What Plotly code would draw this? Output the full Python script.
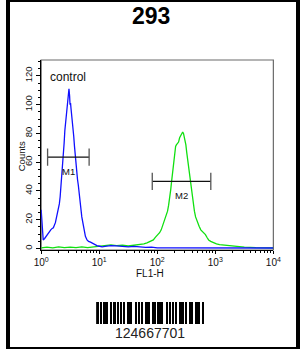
import math
import plotly.graph_objects as go

# ---------------- data ----------------
title_text = "293"
x_label = "FL1-H"
y_label = "Counts"
barcode_text = "124667701"

# control (blue) histogram: log10(FL1-H) and counts
blue_logx = [0.000, 0.010, 0.020, 0.035, 0.060, 0.085, 0.11, 0.14, 0.165, 0.19, 0.21, 0.245,
             0.27, 0.299, 0.313, 0.327, 0.340, 0.354, 0.367, 0.381, 0.395, 0.408, 0.422,
             0.435, 0.449, 0.463, 0.472, 0.479, 0.490, 0.497, 0.506, 0.515, 0.524, 0.533,
             0.547, 0.561, 0.574, 0.588, 0.600, 0.612, 0.626, 0.640, 0.653, 0.667, 0.680,
             0.700, 0.718, 0.740, 0.762, 0.79, 0.816, 0.85, 0.871, 0.9, 0.925, 0.96, 1.007,
             1.05, 1.1, 1.2, 1.3, 1.4, 1.5, 1.6, 1.7, 1.8, 1.9, 2.0, 2.2, 2.4, 2.6, 2.8,
             3.0, 3.2, 3.4, 3.6, 3.8, 4.0]
blue_counts = [27, 20, 9, 6, 7, 8.5, 10, 12, 13, 14, 14.5, 18,
               22, 27, 31, 36, 42, 50, 57, 64, 73, 82, 88,
               96, 99, 105, 108, 111, 106, 100, 101, 97, 94, 89,
               84, 78, 71, 64, 57, 53, 48, 44, 39, 33, 27,
               22, 18, 12, 8.5, 6, 5, 4.5, 4, 3.5, 3, 2, 1.6,
               1.2, 1.5, 2, 1.8, 1.5, 1.2, 1.5, 1, 0.8, 1, 0.5, 0.5, 0.5, 0.4, 0.5,
               0.4, 0.5, 0.4, 0.5, 0.4, 0.4]

# sample (green) histogram
green_logx = [0.0, 0.1, 0.2, 0.3, 0.4, 0.5, 0.6, 0.7, 0.8, 0.9, 1.0, 1.1, 1.2, 1.3, 1.4,
              1.5, 1.6, 1.714, 1.77, 1.823, 1.88, 1.932, 1.97, 2.013, 2.04, 2.068, 2.095,
              2.122, 2.15, 2.177, 2.195, 2.215, 2.232, 2.248, 2.262, 2.275, 2.29, 2.302,
              2.316, 2.329, 2.345, 2.367, 2.385, 2.405, 2.42, 2.438, 2.452, 2.465, 2.48,
              2.493, 2.507, 2.520, 2.534, 2.547, 2.56, 2.574, 2.587, 2.601, 2.62, 2.640,
              2.66, 2.683, 2.70, 2.721, 2.75, 2.776, 2.80, 2.830, 2.86, 2.885, 2.92, 2.966,
              3.02, 3.074, 3.18, 3.35, 3.5, 3.7, 3.9, 4.0]
green_counts = [0.5, 1, 0.5, 1.2, 0.6, 1, 0.6, 1.2, 0.7, 1.2, 1.5, 2.2, 2.5, 2.0, 2.3,
                1.8, 2.2, 2.8, 3.2, 4, 5, 6, 8, 9.7, 11, 13, 16,
                19, 22, 26, 30, 35, 41, 47, 53, 58, 63, 67,
                71, 72, 73, 74, 77, 79, 80, 81, 80, 78, 75,
                72, 67, 63, 58, 54, 49, 44, 40, 35, 30, 26,
                22, 19, 17, 15.5, 13, 12, 11, 9.7, 7.5, 6, 5, 4,
                3.3, 2.8, 2.3, 1.6, 1, 0.6, 0.5, 0.5]

# gates (marker regions)
gate_names = ["M1", "M2"]
gate_low = [1.29, 82.0]
gate_high = [6.7, 836.0]
gate_level = [63.5, 46.7]
gate_label_x = [2.95, 257.0]

control_label_x = 2.9
control_label_y = 119

# axis ticks
x_tickvals = [1, 10, 100, 1000, 10000]
x_ticktext = ["10<sup>0</sup>", "10<sup>1</sup>", "10<sup>2</sup>", "10<sup>3</sup>", "10<sup>4</sup>"]
y_tickvals = [0, 20, 40, 60, 80, 100, 120]

# barcode module widths (bar, space alternating)
barcode_bars = [3, 1, 2, 1, 2, 3, 1, 2, 1, 3, 1, 2, 2, 1, 3, 1, 1, 2, 3, 1, 2, 1, 2, 1, 3, 1, 2, 1, 2, 3, 1, 2]
barcode_spaces = [1, 2, 1, 2, 1, 1, 2, 1, 2, 1, 3, 1, 1, 2, 1, 2, 1, 1, 1, 3, 1, 2, 1, 2, 1, 1, 2, 1, 1, 1, 2]

# ---------------- figure ----------------
W, H = 306, 349
FONT = "Arial, Liberation Sans, sans-serif"

def px_x(p):
    return p / W

def px_y(p):
    return 1 - p / H

fig = go.Figure()

fig.add_trace(go.Scatter(
    x=[10 ** v for v in green_logx], y=green_counts, mode="lines",
    line=dict(color="#10e010", width=1.3), showlegend=False, hoverinfo="skip"))
fig.add_trace(go.Scatter(
    x=[10 ** v for v in blue_logx], y=blue_counts, mode="lines",
    line=dict(color="#1010ff", width=1.3), showlegend=False, hoverinfo="skip"))

# gates
for name, lo, hi, lvl, lx in zip(gate_names, gate_low, gate_high, gate_level, gate_label_x):
    cap = 6
    fig.add_trace(go.Scatter(
        x=[lo, hi], y=[lvl, lvl], mode="lines",
        line=dict(color="#111111", width=1.2), showlegend=False, hoverinfo="skip"))
    fig.add_trace(go.Scatter(
        x=[lo, lo, None, hi, hi], y=[lvl - cap, lvl + cap, None, lvl - cap, lvl + cap],
        mode="lines", line=dict(color="#555555", width=1.3), showlegend=False, hoverinfo="skip"))
    fig.add_annotation(x=math.log10(lx), y=lvl - 10, xref="x", yref="y",
                       xanchor="center", yanchor="middle",
                       text=name, showarrow=False,
                       font=dict(family=FONT, size=9.5, color="#111111"))

fig.add_annotation(x=math.log10(control_label_x), y=control_label_y, xref="x", yref="y",
                   text="control", xanchor="center", yanchor="middle",
                   showarrow=False, font=dict(family=FONT, size=12, color="#111111"))

# barcode
pos = 0
centers = []
for i, bw in enumerate(barcode_bars):
    centers.append(pos + bw / 2)
    pos += bw
    if i < len(barcode_spaces):
        pos += barcode_spaces[i]
total = pos
fig.add_trace(go.Bar(
    x=centers, y=[1] * len(centers), width=barcode_bars, xaxis="x2", yaxis="y2",
    marker=dict(color="#000000", line=dict(width=0)), showlegend=False, hoverinfo="skip"))

fig.update_layout(
    width=W, height=H,
    margin=dict(l=0, r=0, t=0, b=0),
    paper_bgcolor="white", plot_bgcolor="white",
    font=dict(family=FONT, color="#111111"),
    xaxis=dict(
        type="log", range=[0, 4], domain=[px_x(35), px_x(280)],
        showline=True, linecolor="#000000", linewidth=1.2,
        showgrid=False, zeroline=False,
        tickvals=x_tickvals, ticktext=x_ticktext,
        ticks="outside", ticklen=3, tickcolor="#000000",
        tickfont=dict(size=10, family=FONT, color="#111111"),
        minor=dict(ticks="outside", ticklen=2, dtick="D1", tickcolor="#000000", showgrid=False),
        anchor="y",
    ),
    yaxis=dict(
        range=[-1, 131], domain=[px_y(250), px_y(60)],
        showline=True, linecolor="#000000", linewidth=1.2,
        showgrid=False, zeroline=False,
        tickvals=y_tickvals, tickangle=-90,
        ticks="outside", ticklen=4, tickcolor="#000000",
        tickfont=dict(size=9.5, family=FONT, color="#111111"),
        minor=dict(ticks="outside", ticklen=2.5, dtick=5, tickcolor="#000000", showgrid=False),
        anchor="x",
    ),
    xaxis2=dict(domain=[px_x(93), px_x(207)], range=[0, total], visible=False,
                anchor="y2", fixedrange=True),
    yaxis2=dict(domain=[px_y(324), px_y(302)], range=[0, 1], visible=False,
                anchor="x2", fixedrange=True),
    bargap=0,
    showlegend=False,
)

# plot frame (top/right gray)
fig.add_shape(type="rect", xref="x domain", yref="y domain", x0=0, x1=1, y0=0, y1=1,
              line=dict(color="#6a6a6a", width=1.2), layer="below")
# outer border
fig.add_shape(type="rect", xref="paper", yref="paper", x0=0, x1=1, y0=0, y1=1,
              line=dict(color="#000000", width=4))

# titles
def paper_text(x, y, text, size, color="#111111", angle=0):
    fig.add_annotation(x=px_x(x), y=px_y(y), xref="paper", yref="paper", text=text,
                       xanchor="center", yanchor="middle", textangle=angle,
                       showarrow=False, font=dict(family=FONT, size=size, color=color))

paper_text(151, 16, "<b>" + title_text + "</b>", 23, "#000000")
paper_text(150, 273, x_label, 10)
paper_text(14, 156, y_label, 9.5, angle=-90)
paper_text(150, 333, barcode_text, 14, "#222222")

fig.write_html("out.html")
